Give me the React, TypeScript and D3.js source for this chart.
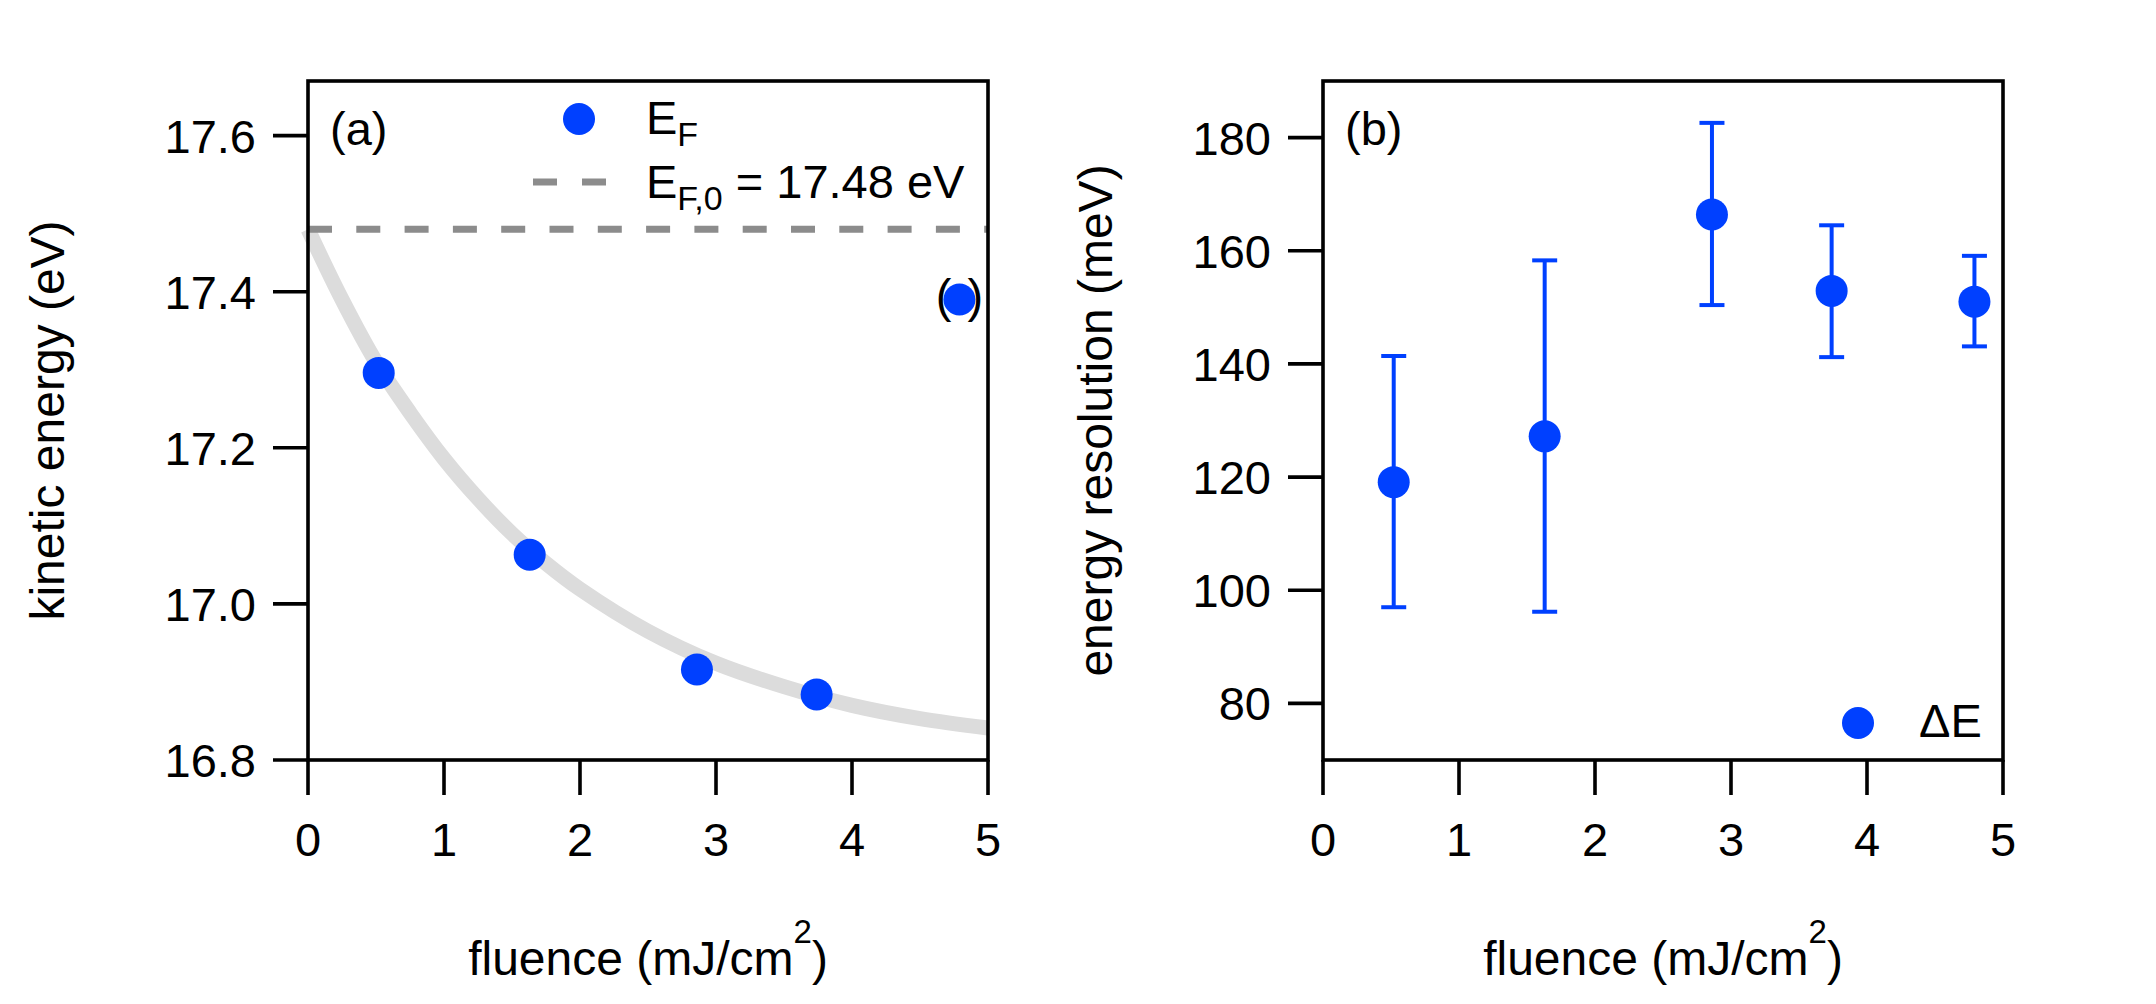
import * as React from 'react';
import * as d3 from 'd3';

// fluence of the pump pulses (mJ/cm^2), shared by both panels
const fluence = [0.52, 1.63, 2.86, 3.74, 4.79];

// panel (a): Fermi edge position (eV)
const fermiEnergy = [17.296, 17.063, 16.916, 16.884, 17.39];
const fermiEnergyRef = 17.48;
const bracketedIndex = 4;
// grey guide curve
const guideFluence = [0, 0.25, 0.5, 0.75, 1, 1.25, 1.5, 1.75, 2, 2.5, 3, 3.5, 4, 4.5, 5];
const guideEnergy = [17.48, 17.39, 17.31, 17.245, 17.186, 17.135, 17.09, 17.052, 17.019, 16.965, 16.924, 16.894, 16.87, 16.853, 16.841];

// panel (b): energy resolution (meV) with error bar ends
const resolution = [119.1, 127.2, 166.4, 152.9, 151.0];
const resolutionHigh = [141.4, 158.3, 182.6, 164.5, 159.1];
const resolutionLow = [97.0, 96.2, 150.4, 141.2, 143.1];

const xTicks = [0, 1, 2, 3, 4, 5];
const energyTicks = [16.8, 17.0, 17.2, 17.4, 17.6];
const resolutionTicks = [80, 100, 120, 140, 160, 180];

const W = 2156;
const H = 1004;
const top = 81;
const bottom = 760;
const BLUE = '#0040ff';
const FONT = '"Liberation Sans", Arial, sans-serif';
const fs = 47;
const tickLen = 35;
const axisW = 3.6;

function Frame({x0, x1}: {x0: number; x1: number}) {
    return <rect x={x0} y={top} width={x1 - x0} height={bottom - top}
        fill="none" stroke="#000" strokeWidth={axisW}/>;
}

function XAxis({x}: {x: d3.ScaleLinear<number, number>}) {
    return <g>
        {xTicks.map(t => <g key={t}>
            <line x1={x(t)} x2={x(t)} y1={bottom} y2={bottom + tickLen} stroke="#000" strokeWidth={axisW}/>
            <text x={x(t)} y={bottom + 96} textAnchor="middle" fontSize={fs}>{t}</text>
        </g>)}
    </g>;
}

function YAxis({y, x0, ticks, fmt}: {y: d3.ScaleLinear<number, number>; x0: number; ticks: number[]; fmt: (v: number) => string}) {
    return <g>
        {ticks.map(t => <g key={t}>
            <line x1={x0 - tickLen} x2={x0} y1={y(t)} y2={y(t)} stroke="#000" strokeWidth={axisW}/>
            <text x={x0 - 52} y={y(t)} dy="0.36em" textAnchor="end" fontSize={fs}>{fmt(t)}</text>
        </g>)}
    </g>;
}

function XLabel({cx}: {cx: number}) {
    return <text x={cx} y={975} textAnchor="middle" fontSize={48}>
        fluence (mJ/cm<tspan fontSize={33} dy={-32}>2</tspan><tspan dy={32}>)</tspan>
    </text>;
}

export default function App() {
    // panel (a)
    const xa = d3.scaleLinear().domain([0, 5]).range([308, 988]);
    const ya = d3.scaleLinear().domain([16.8, 17.67]).range([bottom, top]);
    // panel (b)
    const xb = d3.scaleLinear().domain([0, 5]).range([1323, 2003]);
    const yb = d3.scaleLinear().domain([70, 190]).range([bottom, top]);

    const guide = d3.line<number>()
        .x((d, i) => xa(guideFluence[i]))
        .y(d => ya(d))
        .curve(d3.curveCatmullRom.alpha(0.5))(guideEnergy);

    const cap = 12.5;

    return (
        <svg width={W} height={H} style={{position: 'absolute', left: 0, top: 0}}
            fontFamily={FONT} fill="#000">
            <rect width={W} height={H} fill="#fff"/>

            {/* ---- panel (a) ---- */}
            <path d={guide ?? ''} fill="none" stroke="#dcdcdc" strokeWidth={15}/>
            <line x1={xa(0)} x2={xa(5)} y1={ya(fermiEnergyRef)} y2={ya(fermiEnergyRef)}
                stroke="#8c8c8c" strokeWidth={7} strokeDasharray="24 24.3"/>
            <Frame x0={308} x1={988}/>
            <XAxis x={xa}/>
            <YAxis y={ya} x0={308} ticks={energyTicks} fmt={d3.format('.1f')}/>
            {fluence.map((f, i) => <circle key={i} cx={xa(f)} cy={ya(fermiEnergy[i])} r={16} fill={BLUE}/>)}
            <text x={xa(fluence[bracketedIndex]) - 8} y={ya(fermiEnergy[bracketedIndex]) + 12}
                textAnchor="end" fontSize={fs}>(</text>
            <text x={xa(fluence[bracketedIndex]) + 8} y={ya(fermiEnergy[bracketedIndex]) + 12}
                textAnchor="start" fontSize={fs}>)</text>
            <text x={330} y={145} fontSize={fs}>(a)</text>

            {/* legend (a) */}
            <circle cx={579} cy={119} r={16} fill={BLUE}/>
            <text x={646} y={134} fontSize={fs}>E<tspan fontSize={34} dy={12}>F</tspan></text>
            <line x1={533} x2={606} y1={182} y2={182} stroke="#8c8c8c" strokeWidth={7} strokeDasharray="24 25"/>
            <text x={646} y={198} fontSize={fs}>E<tspan fontSize={34} dy={12}>F,0</tspan>
                <tspan dy={-12}> = 17.48 eV</tspan></text>

            <XLabel cx={648}/>
            <text transform={`translate(64, ${(top + bottom) / 2}) rotate(-90)`} textAnchor="middle" fontSize={48}>
                kinetic energy (eV)
            </text>

            {/* ---- panel (b) ---- */}
            {fluence.map((f, i) => <g key={i} stroke={BLUE} strokeWidth={4}>
                <line x1={xb(f)} x2={xb(f)} y1={yb(resolutionHigh[i])} y2={yb(resolutionLow[i])}/>
                <line x1={xb(f) - cap} x2={xb(f) + cap} y1={yb(resolutionHigh[i])} y2={yb(resolutionHigh[i])}/>
                <line x1={xb(f) - cap} x2={xb(f) + cap} y1={yb(resolutionLow[i])} y2={yb(resolutionLow[i])}/>
            </g>)}
            {fluence.map((f, i) => <circle key={i} cx={xb(f)} cy={yb(resolution[i])} r={16} fill={BLUE}/>)}
            <Frame x0={1323} x1={2003}/>
            <XAxis x={xb}/>
            <YAxis y={yb} x0={1323} ticks={resolutionTicks} fmt={d3.format('d')}/>
            <text x={1345} y={145} fontSize={fs}>(b)</text>

            {/* legend (b) */}
            <circle cx={1858} cy={723} r={16} fill={BLUE}/>
            <text x={1919} y={737} fontSize={fs}>ΔE</text>

            <XLabel cx={1663}/>
            <text transform={`translate(1112, ${(top + bottom) / 2}) rotate(-90)`} textAnchor="middle" fontSize={48}>
                energy resolution (meV)
            </text>
        </svg>
    );
}
